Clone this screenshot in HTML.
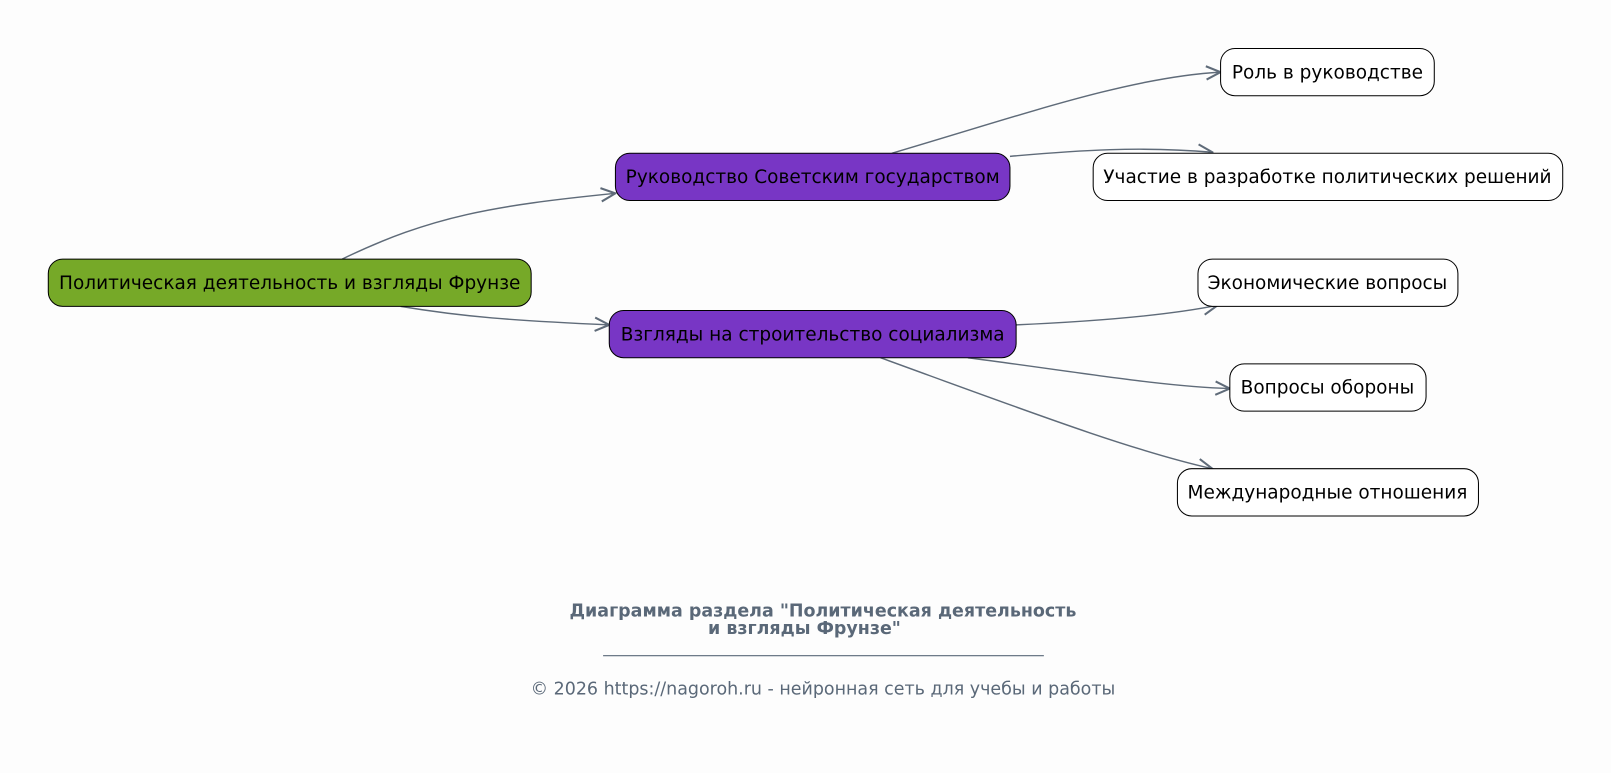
<!DOCTYPE html>
<html><head><meta charset="utf-8"><style>html,body{margin:0;padding:0;background:#fdfdfd}svg{display:block}</style></head>
<body>
<svg width="1611" height="773" viewBox="0 0 1568 752" xmlns="http://www.w3.org/2000/svg" font-family="DejaVu Sans, Liberation Sans, sans-serif">
<rect width="1568" height="752" fill="#fdfdfd"/>
<defs><marker id="a" viewBox="0 0 16 16" refX="15" refY="8" markerWidth="16" markerHeight="16" markerUnits="userSpaceOnUse" orient="auto"><path d="M1,1.5 L15,8 L1,14.5" fill="none" stroke="#5f6b79" stroke-width="2"/></marker></defs>
<g fill="none" stroke="#5f6b79" stroke-width="1.4" marker-end="url(#a)">
<path d="M333,252 C420,210 480,200 599,188"/>
<path d="M390,298 C450,308 500,312 593,316"/>
<path d="M868,149 C1000,110 1100,75 1188,70"/>
<path d="M983,152 C1050,146 1110,142 1180,148"/>
<path d="M989,316 C1080,312 1140,306 1185,297"/>
<path d="M942,348 C1050,362 1130,376 1197,378"/>
<path d="M857,348 C1000,400 1100,438 1180,456"/>
</g>
<g stroke="#000" stroke-width="1">
<rect x="47" y="252" width="470" height="46" rx="14" fill="#76a928"/>
<rect x="599" y="149" width="384" height="46" rx="14" fill="#7836c5"/>
<rect x="593" y="302" width="396" height="46" rx="14" fill="#7836c5"/>
<rect x="1188" y="47" width="208" height="46" rx="14" fill="#fff"/>
<rect x="1064" y="149" width="457" height="46" rx="14" fill="#fff"/>
<rect x="1166" y="252" width="253" height="46" rx="14" fill="#fff"/>
<rect x="1197" y="354" width="191" height="46" rx="14" fill="#fff"/>
<rect x="1146" y="456" width="293" height="46" rx="14" fill="#fff"/>
</g>
<g font-size="18" fill="#000" text-anchor="middle">
<text x="282" y="281">Политическая деятельность и взгляды Фрунзе</text>
<text x="791" y="178">Руководство Советским государством</text>
<text x="791" y="331">Взгляды на строительство социализма</text>
<text x="1292" y="76">Роль в руководстве</text>
<text x="1292" y="178">Участие в разработке политических решений</text>
<text x="1292" y="281">Экономические вопросы</text>
<text x="1292" y="383">Вопросы обороны</text>
<text x="1292" y="485">Международные отношения</text>
</g>
<g fill="#5a6878" text-anchor="middle">
<text x="801" y="600" font-size="17" font-weight="bold">Диаграмма раздела "Политическая деятельность</text>
<text x="783" y="617" font-size="17" font-weight="bold">и взгляды Фрунзе"</text>
<line x1="587" y1="638" x2="1016" y2="638" stroke="#5a6878" stroke-width="1"/>
<text x="801" y="676" font-size="17">© 2026 https://nagoroh.ru - нейронная сеть для учебы и работы</text>
</g>
</svg>
</body></html>
